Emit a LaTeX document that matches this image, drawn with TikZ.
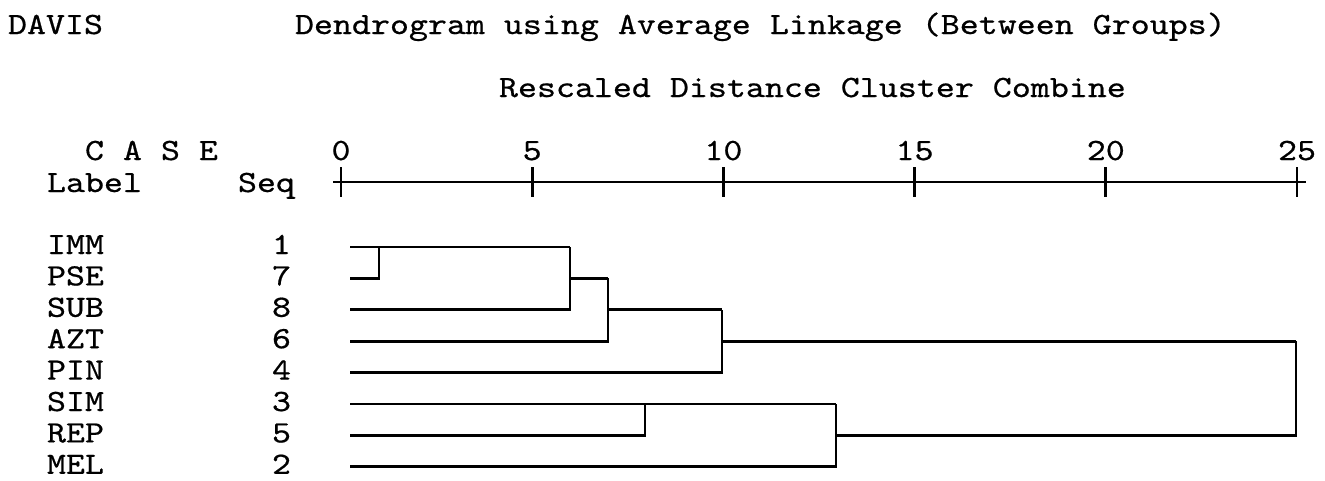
\documentclass[tikz,border=0pt]{standalone}
\usepackage{fontspec}
\usepackage{xcolor}
\usepackage{tikz}
\usetikzlibrary{positioning}
\newfontfamily\spssfont{lmmono10-regular}[Extension=.otf, FakeStretch=1.17, FakeBold=0.6]

\begin{document}
\begin{tikzpicture}[
    x=0.02cm, y=-0.02cm,
    txt/.style={inner sep=0pt, outer sep=0pt, anchor=base west, font=\spssfont\fontsize{17.6pt}{20pt}\selectfont},
    seqnum/.style={txt, anchor=base east},
    ticklbl/.style={txt, anchor=base},
    axisline/.style={draw=black, line width=1.6pt},
    dline/.style={draw=black, line width=1.6pt}
]
    \useasboundingbox (0,0) rectangle (1325,480);

    % Headings
    \node[txt] (DAVIS) at (8,34) {DAVIS};
    \node[txt] (TITLE) at (295,34) {Dendrogram using Average Linkage (Between Groups)};
    \node[txt] (RESC) at (499,97) {Rescaled Distance Cluster Combine};

    % Column heads
    \node[txt] (CASE) at (85,160) {C A S E};
    \node[txt] (LABEL) at (47,192) {Label};
    \node[txt] (SEQ) at (238,192) {Seq};

    % Scale (0 .. 25)
    \coordinate (axL) at (333,182);
    \coordinate (axR) at (1306,182);
    \draw[axisline] (axL) -- (axR);
    \node[ticklbl] (tk0) at (341,160) {0};
    \node[ticklbl] (tk5) at (532.2,160) {5};
    \node[ticklbl] (tk10) at (723.4,160) {10};
    \node[ticklbl] (tk15) at (914.6,160) {15};
    \node[ticklbl] (tk20) at (1105.8,160) {20};
    \node[ticklbl] (tk25) at (1297,160) {25};
    \draw[axisline] (tk0 |- 0,167) -- (tk0 |- 0,197);
    \draw[axisline] (tk5 |- 0,167) -- (tk5 |- 0,197);
    \draw[axisline] (tk10 |- 0,167) -- (tk10 |- 0,197);
    \draw[axisline] (tk15 |- 0,167) -- (tk15 |- 0,197);
    \draw[axisline] (tk20 |- 0,167) -- (tk20 |- 0,197);
    \draw[axisline] (tk25 |- 0,167) -- (tk25 |- 0,197);

    % Cases
    \node[txt] (lblIMM) at (47,254) {IMM};  \node[seqnum] (seqIMM) at (291,254) {1};
    \node[txt] (lblPSE) at (47,285.4) {PSE};  \node[seqnum] (seqPSE) at (291,285.4) {7};
    \node[txt] (lblSUB) at (47,316.8) {SUB};  \node[seqnum] (seqSUB) at (291,316.8) {8};
    \node[txt] (lblAZT) at (47,348.2) {AZT};  \node[seqnum] (seqAZT) at (291,348.2) {6};
    \node[txt] (lblPIN) at (47,379.6) {PIN};  \node[seqnum] (seqPIN) at (291,379.6) {4};
    \node[txt] (lblSIM) at (47,411) {SIM};  \node[seqnum] (seqSIM) at (291,411) {3};
    \node[txt] (lblREP) at (47,442.4) {REP};  \node[seqnum] (seqREP) at (291,442.4) {5};
    \node[txt] (lblMEL) at (47,473.8) {MEL};  \node[seqnum] (seqMEL) at (291,473.8) {2};

    % Leaf ends
    \coordinate (leafIMM) at (350,247);
    \coordinate (leafPSE) at (350,278.4);
    \coordinate (leafSUB) at (350,309.8);
    \coordinate (leafAZT) at (350,341.2);
    \coordinate (leafPIN) at (350,372.6);
    \coordinate (leafSIM) at (350,404);
    \coordinate (leafREP) at (350,435.4);
    \coordinate (leafMEL) at (350,466.8);

    % Merge distances on the scale
    \coordinate (J1) at (379,182);
    \coordinate (J2) at (570,182);
    \coordinate (J3) at (608,182);
    \coordinate (J4) at (722,182);
    \coordinate (J5) at (645,182);
    \coordinate (J6) at (836,182);
    \coordinate (J7) at (1296,182);

    % Upper cluster
    \draw[dline] (leafIMM) -- (J2 |- leafIMM);
    \draw[dline] (leafPSE) -| (J1 |- leafIMM);
    \draw[dline] (leafSUB) -| (J2 |- leafIMM);
    \draw[dline] (J2 |- leafPSE) -- (J3 |- leafPSE);
    \draw[dline] (leafAZT) -| (J3 |- leafPSE);
    \draw[dline] (J3 |- leafSUB) -- (J4 |- leafSUB);
    \draw[dline] (leafPIN) -| (J4 |- leafSUB);
    \draw[dline] (J4 |- leafAZT) -- (J7 |- leafAZT);

    % Lower cluster
    \draw[dline] (leafSIM) -- (J6 |- leafSIM);
    \draw[dline] (leafREP) -| (J5 |- leafSIM);
    \draw[dline] (leafMEL) -| (J6 |- leafSIM);
    \draw[dline] (J6 |- leafREP) -| (J7 |- leafAZT);
\end{tikzpicture}
\end{document}
